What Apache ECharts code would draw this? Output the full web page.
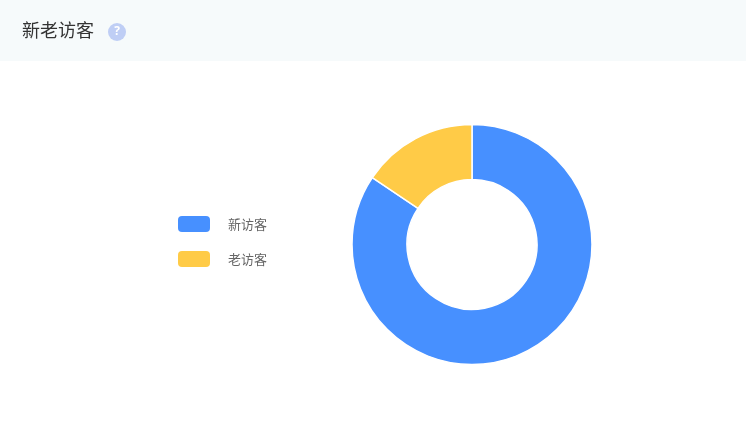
<!DOCTYPE html>
<html><head><meta charset="utf-8">
<style>html,body{margin:0;padding:0;background:#fff}#c{width:746px;height:428px}</style>
<script src="https://cdn.jsdelivr.net/npm/echarts@6/dist/echarts.min.js"></script>
</head><body><div id="c"></div>
<script>
const titleText = '新老访客';
const categories = ['新访客', '老访客'];
const visitorValues = [84.4, 15.6];
const colors = ['#4790ff', '#ffcb47'];
const font = '"Noto Sans CJK SC", sans-serif';
const chart = echarts.init(document.getElementById('c'), null, {renderer:'canvas'});
chart.setOption({
  animation:false,
  backgroundColor:'#fff',
  color:colors,
  legend:{
    orient:'vertical', left:178, top:216, itemWidth:32, itemHeight:16, itemGap:19,
    icon:'roundRect', selectedMode:false,
    itemStyle:{borderWidth:0},
    textStyle:{color:'#666', fontSize:13, lineHeight:16, fontFamily:font, padding:[0,0,0,13]},
    padding:0,
    data:categories
  },
  graphic:[
    {type:'rect', z:-1, shape:{x:0,y:0,width:746,height:61}, style:{fill:'#f6fafb'}},
    {type:'text', left:22, top:21, style:{text:titleText, fill:'#333', font:'18px '+font}},
    {type:'circle', shape:{cx:117,cy:32,r:9}, style:{fill:'#bfcef5'}},
    {type:'text', style:{x:117,y:32,text:'?',fill:'#ffffff',align:'center',verticalAlign:'middle',font:'bold 12px "Open Sans", sans-serif'}}
  ],
  series:[{
    type:'pie', center:[472,244.5], radius:[65,120], startAngle:90, clockwise:true,
    label:{show:false}, labelLine:{show:false}, silent:true,
    itemStyle:{borderColor:'#fff', borderWidth:1.5},
    data:categories.map((n,i)=>({name:n,value:visitorValues[i]}))
  }]
});
</script></body></html>
